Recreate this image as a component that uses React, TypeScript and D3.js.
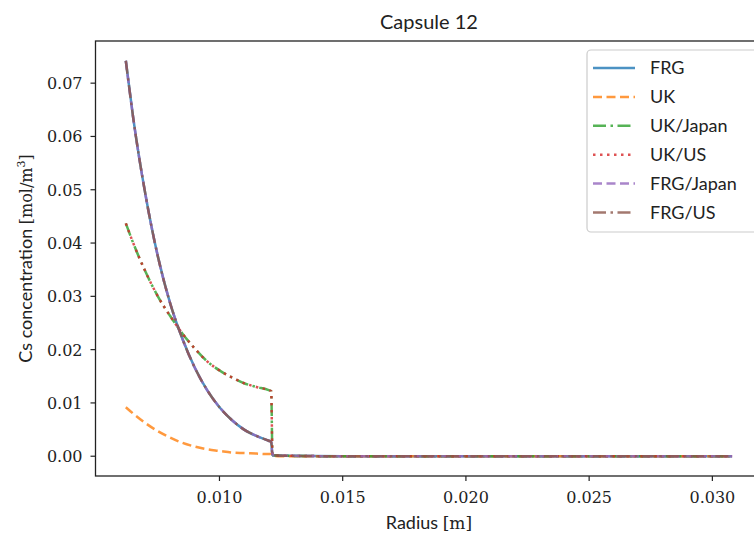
import React from "react";
import * as d3 from "d3";

const radius = [0.0062, 0.0065, 0.0070, 0.0075, 0.0080, 0.0085, 0.0090, 0.0095, 0.0100, 0.0105, 0.0110, 0.0115, 0.0120, 0.0121, 0.01215, 0.0125, 0.0150, 0.0200, 0.0250, 0.0308];

const frg = [0.0742, 0.0635, 0.0490, 0.0375, 0.0287, 0.0220, 0.0166, 0.0124, 0.0092, 0.0068, 0.0050, 0.0038, 0.0029, 0.0027, 0.0002, 0.0001, 0.0000, 0.0000, 0.0000, 0.0000];
const uk = [0.0092, 0.0080, 0.0062, 0.0047, 0.0035, 0.0025, 0.0018, 0.0013, 0.0010, 0.0007, 0.0006, 0.0005, 0.0004, 0.0004, 0.0001, 0.0000, 0.0000, 0.0000, 0.0000, 0.0000];
const ukJapan = [0.0437, 0.0400, 0.0346, 0.0300, 0.0263, 0.0230, 0.0202, 0.0178, 0.0161, 0.0148, 0.0137, 0.0130, 0.0124, 0.0122, 0.0002, 0.0001, 0.0000, 0.0000, 0.0000, 0.0000];
const ukUs = [0.0437, 0.0400, 0.0346, 0.0300, 0.0263, 0.0230, 0.0202, 0.0178, 0.0161, 0.0148, 0.0137, 0.0130, 0.0124, 0.0122, 0.0002, 0.0001, 0.0000, 0.0000, 0.0000, 0.0000];
const frgJapan = [0.0742, 0.0635, 0.0490, 0.0375, 0.0287, 0.0220, 0.0166, 0.0124, 0.0092, 0.0068, 0.0050, 0.0038, 0.0029, 0.0027, 0.0002, 0.0001, 0.0000, 0.0000, 0.0000, 0.0000];
const frgUs = [0.0742, 0.0635, 0.0490, 0.0375, 0.0287, 0.0220, 0.0166, 0.0124, 0.0092, 0.0068, 0.0050, 0.0038, 0.0029, 0.0027, 0.0002, 0.0001, 0.0000, 0.0000, 0.0000, 0.0000];

const seriesNames = ["FRG", "UK", "UK/Japan", "UK/US", "FRG/Japan", "FRG/US"];
const seriesValues = [frg, uk, ukJapan, ukUs, frgJapan, frgUs];
const seriesColors = ["#1f77b4", "#ff7f0e", "#2ca02c", "#d62728", "#9467bd", "#8c564b"];
const seriesDash = ["", "9,4.5", "13,4.5,2.5,4.5", "2.5,4.5", "9,4.5", "13,4.5,2.5,4.5"];

const xTicks = [0.010, 0.015, 0.020, 0.025, 0.030];
const yTicks = [0.00, 0.01, 0.02, 0.03, 0.04, 0.05, 0.06, 0.07];

const W = 754, H = 536;
const L = 95.5, R = 762.4, T = 41, B = 476;

const SANS = "Lato, 'Noto Sans', sans-serif";
const SERIF = "'DejaVu Serif', 'Liberation Serif', serif";

export default function App() {
  const xMin = d3.min(radius)!, xMax = d3.max(radius)!;
  const xPad = (xMax - xMin) * 0.05;
  const yMax = d3.max(seriesValues.flat())!;
  const yPad = yMax * 0.05;
  const x = d3.scaleLinear().domain([xMin - xPad, xMax + xPad]).range([L, R]);
  const y = d3.scaleLinear().domain([-yPad, yMax + yPad]).range([B, T]);

  const line = d3
    .line<[number, number]>()
    .x((d) => x(d[0]))
    .y((d) => y(d[1]))
    .curve(d3.curveMonotoneX);

  const legendX = 587, legendY = 50, legendW = 180, legendH = 182;
  const rowH = 28.9;

  return (
    <svg width={W} height={H} style={{ position: "absolute", left: 0, top: 0, background: "#fff" }}>
      <rect x={0} y={0} width={W} height={H} fill="#fff" />
      <defs>
        <clipPath id="plotclip">
          <rect x={L} y={T} width={R - L} height={B - T} />
        </clipPath>
      </defs>
      <g clipPath="url(#plotclip)">
        {seriesValues.map((vals, i) => (
          <path
            key={seriesNames[i]}
            d={line(radius.map((r, j) => [r, vals[j]] as [number, number])) || ""}
            fill="none"
            stroke={seriesColors[i]}
            strokeOpacity={0.8}
            strokeWidth={2.5}
            strokeDasharray={seriesDash[i] || undefined}
          />
        ))}
      </g>
      {/* spines */}
      <rect x={L} y={T} width={R - L} height={B - T} fill="none" stroke="#222" strokeWidth={1.3} />
      {/* x ticks */}
      {xTicks.map((t) => (
        <g key={t}>
          <line x1={x(t)} x2={x(t)} y1={B} y2={B + 5} stroke="#222" strokeWidth={1.2} />
          <text x={x(t)} y={B + 27} textAnchor="middle" fontFamily={SERIF} fontSize={16} fill="#222">
            {t.toFixed(3)}
          </text>
        </g>
      ))}
      {/* y ticks */}
      {yTicks.map((t) => (
        <g key={t}>
          <line x1={L - 5} x2={L} y1={y(t)} y2={y(t)} stroke="#222" strokeWidth={1.2} />
          <text x={L - 13} y={y(t) + 6} textAnchor="end" fontFamily={SERIF} fontSize={16} fill="#222">
            {t.toFixed(2)}
          </text>
        </g>
      ))}
      {/* title */}
      <text x={(L + R) / 2} y={29} textAnchor="middle" fontFamily={SANS} fontSize={20} fill="#222">
        Capsule 12
      </text>
      {/* x label */}
      <text x={(L + R) / 2} y={529} textAnchor="middle" fontSize={18} fill="#222">
        <tspan fontFamily={SANS}>Radius </tspan>
        <tspan fontFamily={SERIF} fontSize={17}>[m]</tspan>
      </text>
      {/* y label */}
      <text
        transform={`translate(32, ${(T + B) / 2}) rotate(-90)`}
        textAnchor="middle"
        fontSize={18}
        fill="#222"
      >
        <tspan fontFamily={SANS}>Cs concentration </tspan>
        <tspan fontFamily={SERIF} fontSize={16}>[mol/m</tspan>
        <tspan fontFamily={SERIF} fontSize={11} dy={-7}>3</tspan>
        <tspan fontFamily={SERIF} fontSize={16} dy={7}>]</tspan>
      </text>
      {/* legend */}
      <rect
        x={legendX}
        y={legendY}
        width={legendW}
        height={legendH}
        rx={4}
        fill="#fff"
        fillOpacity={0.8}
        stroke="#ccc"
        strokeWidth={1.2}
      />
      {seriesNames.map((name, i) => {
        const cy = legendY + 18 + i * rowH;
        return (
          <g key={name}>
            <line
              x1={593}
              x2={635}
              y1={cy}
              y2={cy}
              stroke={seriesColors[i]}
              strokeOpacity={0.8}
              strokeWidth={2.5}
              strokeDasharray={seriesDash[i] || undefined}
            />
            <text x={650} y={cy + 6} fontFamily={SANS} fontSize={18} fill="#222">
              {name}
            </text>
          </g>
        );
      })}
    </svg>
  );
}
